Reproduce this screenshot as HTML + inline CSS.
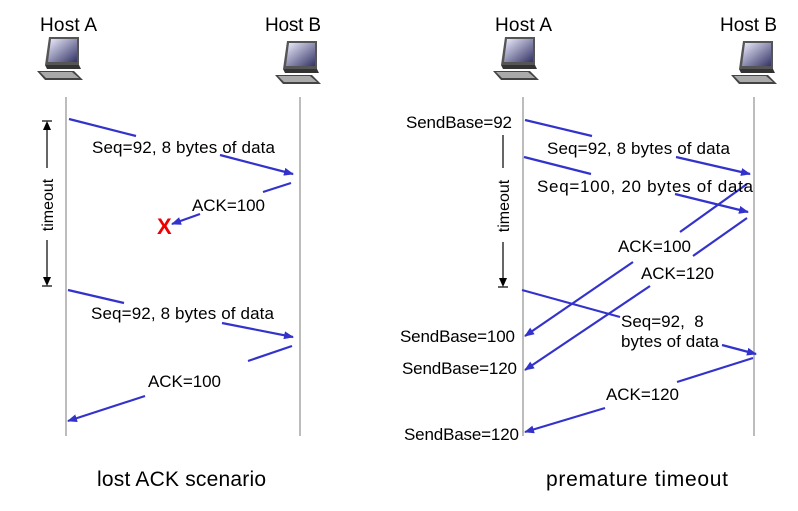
<!DOCTYPE html>
<html><head><meta charset="utf-8"><style>
html,body{margin:0;padding:0;background:#fff}
svg{display:block}
text{font-family:"Liberation Sans",sans-serif;fill:#000}
</style></head><body>
<svg width="798" height="511" viewBox="0 0 798 511" xmlns="http://www.w3.org/2000/svg">
<defs>
<marker id="ah" markerWidth="10" markerHeight="8" refX="9" refY="4" orient="auto" markerUnits="userSpaceOnUse">
<path d="M0,0 L10,4 L0,8 z" fill="#3333cc"/></marker>
<linearGradient id="scr" x1="0" y1="0" x2="1" y2="1"><stop offset="0" stop-color="#eef" /><stop offset="1" stop-color="#336"/></linearGradient>
<g id="pc">
<path d="M12,0 L42,0 L42,28 L8,28 z" fill="#555"/>
<path d="M14,2 L40,2 L40,25 L11,25 z" fill="url(#scr)"/>
<path d="M8,28 L42,28 L44,32 L10,32 z" fill="#333"/>
<path d="M0,34 L37,34 L46,43 L8,43 z" fill="#444"/>
<path d="M3,35 L35,35 L42,41 L9,41 z" fill="#aaa"/>
</g>
</defs>

<text x="40" y="31" font-size="19" textLength="57">Host A</text>
<text x="265" y="31" font-size="19" textLength="56">Host B</text>
<text x="495" y="31" font-size="19" textLength="57">Host A</text>
<text x="720" y="31" font-size="19" textLength="57">Host B</text>
<use href="#pc" x="37" y="37"/>
<use href="#pc" x="275" y="41"/>
<use href="#pc" x="493" y="37"/>
<use href="#pc" x="731" y="41"/>

<g stroke="#999" stroke-width="1.3">
<line x1="66" y1="97" x2="66" y2="436"/>
<line x1="300" y1="97" x2="300" y2="436"/>
<line x1="523" y1="97" x2="523" y2="436"/>
<line x1="754" y1="97" x2="754" y2="436"/>
</g>

<g stroke="#000" stroke-width="1.2">
<line x1="47" y1="126" x2="47" y2="168"/>
<line x1="47" y1="240" x2="47" y2="280"/>
<line x1="42" y1="121" x2="52" y2="121"/>
<line x1="42" y1="286" x2="52" y2="286"/>
<line x1="498" y1="287" x2="508" y2="287"/>
<line x1="503" y1="135" x2="503" y2="168"/>
<line x1="503" y1="242" x2="503" y2="280"/>
</g>
<path d="M43,130 L47,121 L51,130 z" fill="#000"/>
<path d="M43,277 L47,286 L51,277 z" fill="#000"/>
<path d="M499,278 L503,287 L507,278 z" fill="#000"/>
<text transform="translate(53,205) rotate(-90)" font-size="16" text-anchor="middle">timeout</text>
<text transform="translate(509,206) rotate(-90)" font-size="16" text-anchor="middle">timeout</text>

<g stroke="#3333cc" stroke-width="2.2" fill="none">
<line x1="69" y1="119" x2="136" y2="136"/>
<line x1="220" y1="155" x2="293" y2="174" marker-end="url(#ah)"/>
<line x1="291" y1="183" x2="263" y2="192"/>
<line x1="200" y1="214" x2="172" y2="224" marker-end="url(#ah)"/>
<line x1="68" y1="290" x2="124" y2="303"/>
<line x1="222" y1="323" x2="293" y2="337" marker-end="url(#ah)"/>
<line x1="292" y1="346" x2="248" y2="361"/>
<line x1="145" y1="396" x2="68" y2="421" marker-end="url(#ah)"/>
</g>
<text x="92" y="153" font-size="17" textLength="183">Seq=92, 8 bytes of data</text>
<text x="192" y="211" font-size="17" textLength="73">ACK=100</text>
<text x="157" y="234" font-size="22" font-weight="bold" style="fill:#e00">X</text>
<text x="91" y="319" font-size="17" textLength="183">Seq=92, 8 bytes of data</text>
<text x="148" y="387" font-size="17" textLength="73">ACK=100</text>

<g stroke="#3333cc" stroke-width="2.2" fill="none">
<line x1="525" y1="120" x2="592" y2="136"/>
<line x1="676" y1="157" x2="750" y2="174" marker-end="url(#ah)"/>
<line x1="524" y1="157" x2="591" y2="174"/>
<line x1="675" y1="194" x2="748" y2="212" marker-end="url(#ah)"/>
<line x1="747" y1="184" x2="680" y2="232"/>
<line x1="633" y1="262" x2="525" y2="336" marker-end="url(#ah)"/>
<line x1="747" y1="218" x2="693" y2="256"/>
<line x1="650" y1="286" x2="525" y2="370" marker-end="url(#ah)"/>
<line x1="522" y1="290" x2="620" y2="317"/>
<line x1="722" y1="345" x2="756" y2="354" marker-end="url(#ah)"/>
<line x1="753" y1="358" x2="677" y2="382"/>
<line x1="605" y1="408" x2="525" y2="432" marker-end="url(#ah)"/>
</g>
<text x="406" y="128" font-size="17" textLength="106">SendBase=92</text>
<text x="547" y="154" font-size="17" textLength="183">Seq=92, 8 bytes of data</text>
<text x="537" y="192" font-size="17" textLength="216">Seq=100, 20 bytes of data</text>
<text x="618" y="252" font-size="17" textLength="73">ACK=100</text>
<text x="641" y="279" font-size="17" textLength="73">ACK=120</text>
<text x="621" y="327" font-size="17" xml:space="preserve">Seq=92,  8</text>
<text x="621" y="347" font-size="17" textLength="98">bytes of data</text>
<text x="400" y="342" font-size="17" textLength="115">SendBase=100</text>
<text x="402" y="374" font-size="17" textLength="115">SendBase=120</text>
<text x="606" y="400" font-size="17" textLength="73">ACK=120</text>
<text x="404" y="440" font-size="17" textLength="115">SendBase=120</text>

<text x="97" y="486" font-size="21" textLength="169">lost ACK scenario</text>
<text x="546" y="486" font-size="21" textLength="182">premature timeout</text>
</svg>
</body></html>
